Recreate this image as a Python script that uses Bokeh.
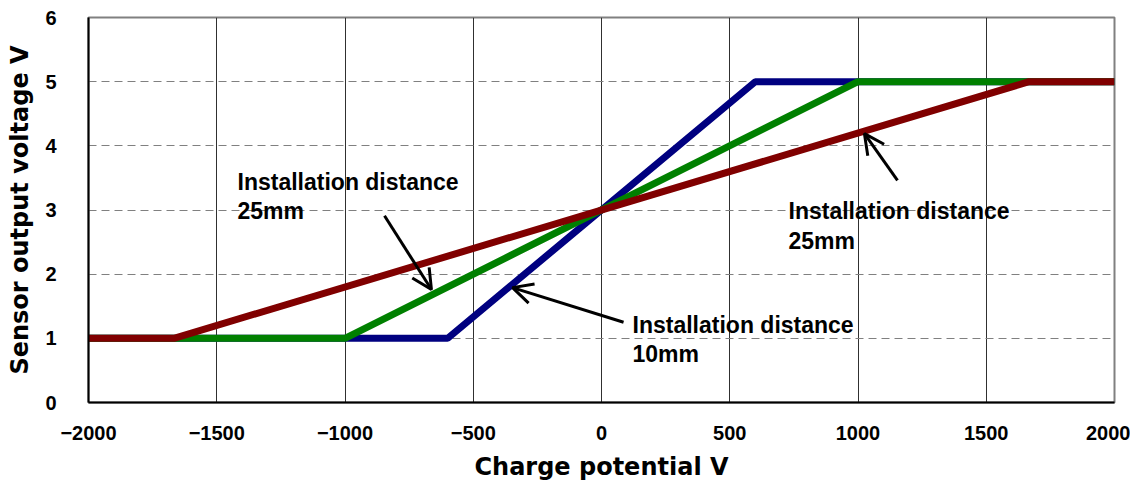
from bokeh.plotting import figure
from bokeh.models import Range1d, Arrow, OpenHead, SingleIntervalTicker, ColumnDataSource
from bokeh.core.properties import value
from bokeh.embed import file_html
from bokeh.resources import INLINE

# Data
x_10mm = [-2000, -600, 600, 2000]
y_10mm = [1, 1, 5, 5]
x_mid = [-2000, -1000, 1000, 2000]
y_mid = [1, 1, 5, 5]
x_25mm = [-2000, -1667, 1667, 2000]
y_25mm = [1, 1, 5, 5]

label_texts = ["Installation distance", "25mm", "Installation distance", "10mm",
               "Installation distance", "25mm"]
label_x = [-1419, -1419, 121, 121, 729, 729]
label_y = [3.43, 2.98, 1.215, 0.76, 2.99, 2.52]

arrow_x0 = [-846, 86, 1154]
arrow_y0 = [2.91, 1.25, 3.46]
arrow_x1 = [-663, -347, 1025]
arrow_y1 = [1.76, 1.79, 4.19]

FONT = "Liberation Sans"
AXFONT = "DejaVu Sans"

p = figure(width=1130, height=486, output_backend="svg", toolbar_location=None,
           x_range=Range1d(-2000, 2000), y_range=Range1d(0, 6),
           min_border_left=88, min_border_right=16, min_border_top=17, min_border_bottom=84)

p.line(x_10mm, y_10mm, line_color="#000080", line_width=7)
p.line(x_mid, y_mid, line_color="#008000", line_width=7)
p.line(x_25mm, y_25mm, line_color="#800000", line_width=7)

for xs, ys, xe, ye in zip(arrow_x0, arrow_y0, arrow_x1, arrow_y1):
    p.add_layout(Arrow(end=OpenHead(size=20, line_width=3, line_color="black"),
                       x_start=xs, y_start=ys, x_end=xe, y_end=ye,
                       line_width=3, line_color="black"))

src = ColumnDataSource(dict(x=label_x, y=label_y, t=label_texts))
p.text(x="x", y="y", text="t", source=src, text_font=value(FONT), text_font_style="bold",
       text_font_size="23px", text_align="left", text_baseline="middle", text_color="black")

p.xaxis.ticker = SingleIntervalTicker(interval=500)
p.yaxis.ticker = SingleIntervalTicker(interval=1)
p.xaxis.minor_tick_line_color = None
p.yaxis.minor_tick_line_color = None
for ax in (p.xaxis, p.yaxis):
    ax.major_tick_in = 0
    ax.major_tick_out = 0
    ax.axis_line_color = "black"
    ax.axis_line_width = 2
    ax.major_label_text_font = FONT
    ax.major_label_text_font_style = "bold"
    ax.major_label_text_font_size = "20px"
    ax.major_label_text_color = "black"
    ax.axis_label_text_font = AXFONT
    ax.axis_label_text_font_style = "bold"
    ax.axis_label_text_font_size = "24px"
    ax.axis_label_text_color = "black"
p.xaxis.axis_label = "Charge potential V"
p.yaxis.axis_label = "Sensor output voltage V"
p.xaxis.major_label_standoff = 19
p.yaxis.major_label_standoff = 28
p.xaxis.axis_label_standoff = 10
p.yaxis.axis_label_standoff = 8

p.xgrid.grid_line_color = "#303030"
p.xgrid.grid_line_width = 1
p.ygrid.grid_line_color = "#808080"
p.ygrid.grid_line_width = 1
p.ygrid.grid_line_dash = "8 5"

p.outline_line_color = "#808080"
p.outline_line_width = 2
p.background_fill_color = "white"
p.border_fill_color = "white"

open("out.html", "w").write(file_html(p, INLINE))
